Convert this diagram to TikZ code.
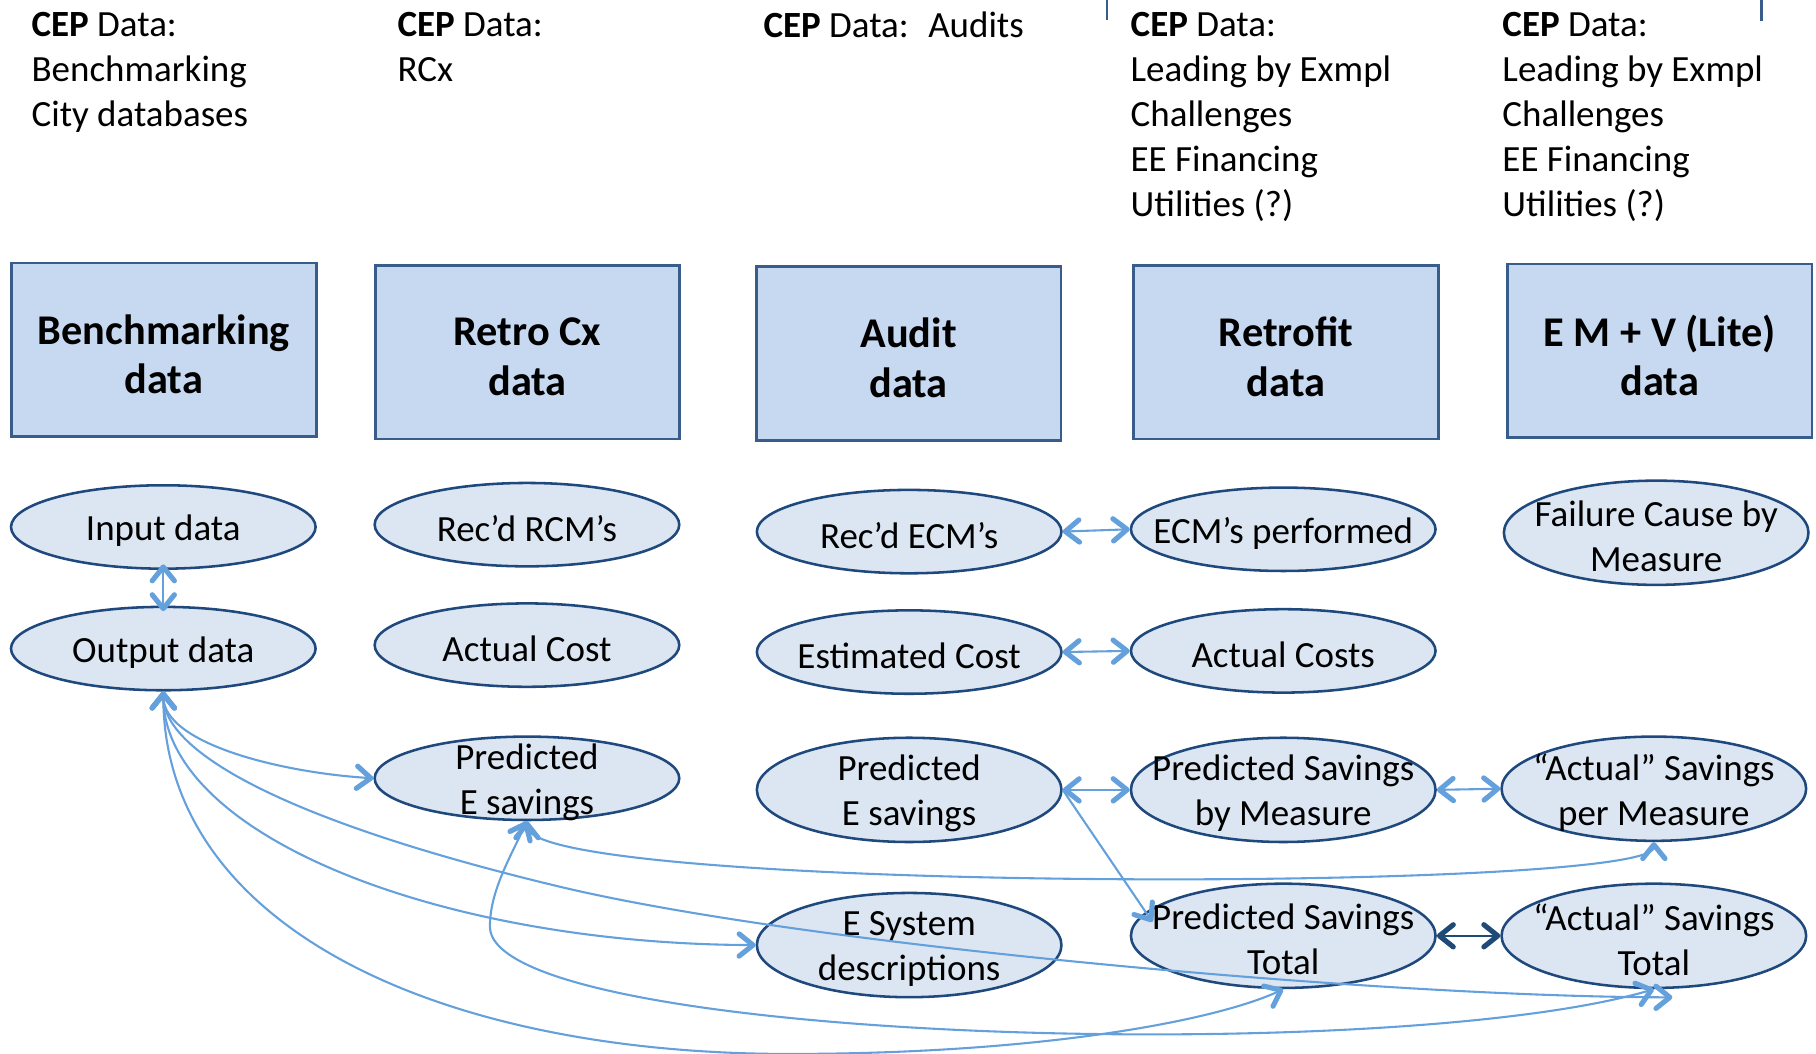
\documentclass[tikz,border=0pt]{standalone}
\usepackage{fontspec}
\setmainfont{Carlito}
\usetikzlibrary{shapes.geometric,arrows.meta}

\definecolor{boxfill}{HTML}{C6D9F1}
\definecolor{boxline}{HTML}{385D8A}
\definecolor{ovalfill}{HTML}{DCE6F2}
\definecolor{ovalline}{HTML}{1F497D}
\definecolor{linkblue}{HTML}{64A0DC}
\definecolor{linkdark}{HTML}{1F4A78}

\def\cepfont{\fontsize{22.7}{27.7}\selectfont}
\def\boxfont{\bfseries\fontsize{26}{30.5}\selectfont}
% box and ellipse with their text laid on top, so the text does not widen them
\newcommand\boxnode[3]{%
  \node[box] (#1) at (#2) {};
  \node[align=center,inner sep=0pt,font=\boxfont] at ([yshift=-1mm]#1) {#3};%
}
\newcommand\ovalnode[4][]{%
  \node[oval,#1] (#2) at (#3) {};
  \node[align=center,inner sep=0pt] at ([yshift=-0.8mm]#2) {#4};%
}

\begin{document}
\begin{tikzpicture}[x=0.25mm,y=-0.25mm,
    every node/.style={font=\cepfont},
    cep/.style={anchor=north west,align=left,inner sep=0pt},
    box/.style={draw=boxline,fill=boxfill,line width=0.6mm,minimum width=65.75mm,
      minimum height=37.5mm,inner sep=0pt},
    oval/.style={ellipse,draw=ovalline,fill=ovalfill,line width=0.55mm,
      minimum width=65.75mm,minimum height=18mm,inner sep=0pt},
    tall/.style={minimum height=22.5mm},
    link/.style={draw=linkblue,line width=0.45mm},
    dark/.style={draw=linkdark,line width=0.5mm},
    >={Straight Barb[length=3mm,width=4.8mm,line width=1.1mm 0,round]}]
  \useasboundingbox (0,0) rectangle (1568,910);

  % CEP Daten
  \node[cep] (cep1) at (27,10) {\textbf{CEP} Data:\\Benchmarking\\City databases};
  \node[cep] (cep2) at (343,10) {\textbf{CEP} Data:\\RCx};
  \node[cep] (cep3) at (659,10) {\textbf{CEP} Data:~ Audits};
  \node[cep] (cep4) at (976,10) {\textbf{CEP} Data:\\Leading by Exmpl\\Challenges\\EE Financing\\Utilities (?)};
  \node[cep] (cep5) at (1297,10) {\textbf{CEP} Data:\\Leading by Exmpl\\Challenges\\EE Financing\\Utilities (?)};
  \draw[boxline,line width=0.5mm] (956,0) -- (956,17);
  \draw[boxline,line width=0.5mm] (1521,0) -- (1521,18);

  % Kaesten
  \boxnode{bench}{141.5,302}{Benchmarking\\data}
  \boxnode{retro}{455.5,304}{Retro Cx\\data}
  \boxnode{audit}{784.5,305}{Audit\\data}
  \boxnode{retrofit}{1110.5,304}{Retrofit\\data}
  \boxnode{emv}{1433,303}{E M + V (Lite)\\data}

  % Ellipsen
  \ovalnode{inp}{141,455}{Input data}
  \ovalnode{outp}{141,560}{Output data}
  \ovalnode{rcm}{455,453}{Rec’d RCM’s}
  \ovalnode{cost1}{455,557}{Actual Cost}
  \ovalnode{pes1}{455,672}{Predicted\\E savings}
  \ovalnode{ecm}{785,459}{Rec’d ECM’s}
  \ovalnode{est}{785,563}{Estimated Cost}
  \ovalnode[tall]{pes2}{785,682}{Predicted\\E savings}
  \ovalnode[tall]{esys}{785,816}{E System\\descriptions}
  \ovalnode{perf}{1108,457}{ECM’s performed}
  \ovalnode{costs}{1108,562}{Actual Costs}
  \ovalnode[tall]{psm}{1108,682}{Predicted Savings\\by Measure}
  \ovalnode[tall]{pst}{1108,808}{Predicted Savings\\Total}
  \ovalnode[tall]{fail}{1430,460}{Failure Cause by\\Measure}
  \ovalnode[tall]{asm}{1428,681}{“Actual” Savings\\per Measure}
  \ovalnode[tall]{ast}{1428,808}{“Actual” Savings\\Total}

  % Pfeile
  \draw[link,<->,shorten <=-1.2mm,shorten >=-1.2mm] (inp.south) -- (outp.north);
  \draw[link,<->] (ecm.east) -- (perf.west);
  \draw[link,<->] (est.east) -- (costs.west);
  \draw[link,<->] (pes2.east) -- (psm.west);
  \draw[link,<->] (psm.east) -- (asm.west);
  \draw[dark,<->] (pst.east) -- (ast.west);
  \draw[link,->] (pes2.east) -- ([shift={(-113,-12)}]pst.center);

  % Kurven
  \draw[link,<->] (outp.south) .. controls +(0,45) and +(-80,-5) .. (pes1.west);
  \draw[link,<->] (outp.south) .. controls +(0,124) and +(-273,-1) .. (esys.west);
  \draw[link,<->] (outp.south) .. controls +(0,53) and +(-235,-56) .. (485,766)
    .. controls +(215,51) and +(-244,0) .. ([shift={(16,7)}]ast.south);
  \draw[link,<->] (outp.south) .. controls +(0,204) and +(-301,0) .. (681,910)
    .. controls +(219,0) and +(-58,27) .. (pst.south);
  \draw[link,<->] (pes1.south) .. controls +(-15,32) and +(0,-30) .. (423,800)
    .. controls +(0,100) and +(-228,67) .. (ast.south);
  \draw[link,<->] (pes1.south) .. controls +(0,62) and +(0,44) .. (asm.south);
\end{tikzpicture}
\end{document}
